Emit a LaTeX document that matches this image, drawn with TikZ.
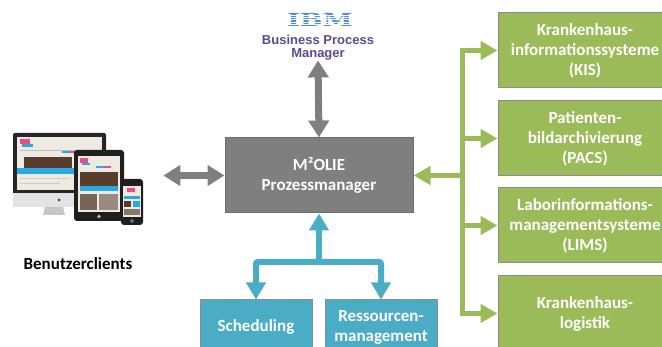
\documentclass[tikz,border=0pt]{standalone}
\usepackage{fontspec}
\setmainfont{Carlito}
\newfontfamily\bpmfont{Liberation Sans}
\newfontfamily\ibmserif{DejaVu Serif}
\usetikzlibrary{arrows.meta,calc}

\definecolor{mgrey}{RGB}{127,127,127}
\definecolor{mgreen}{RGB}{155,187,89}
\definecolor{mblue}{RGB}{75,172,198}
\definecolor{ibmblue}{RGB}{72,142,218}
\definecolor{ibmpurple}{RGB}{90,74,150}
\definecolor{screenbg}{RGB}{238,234,226}
\definecolor{webcyan}{RGB}{39,170,225}
\definecolor{webpink}{RGB}{233,78,138}
\definecolor{webdark}{RGB}{88,60,44}

\tikzset{every picture/.style={line width=0.75pt}}
\tikzset{
  procbox/.style={draw=black!45, line width=1pt, text=white, align=center,
    inner sep=0pt, font=\bfseries\fontsize{17}{20}\selectfont},
  greybox/.style={procbox, fill=mgrey, draw=black!58, minimum width=188, minimum height=75},
  greenbox/.style={procbox, fill=mgreen, minimum width=174, minimum height=75},
  bluebox/.style={procbox, fill=mblue, minimum width=112, minimum height=54},
  greyarrow/.style={draw=mgrey, line width=7pt, {Triangle[width=20pt,length=17pt]}-{Triangle[width=20pt,length=17pt]}},
  greenline/.style={draw=mgreen, line width=5pt, line cap=rect},
  greenarrow/.style={draw=mgreen, line width=5pt, -{Triangle[width=18pt,length=17pt]}},
  bluearrow/.style={draw=mblue, line width=6pt, -{Triangle[width=19pt,length=17pt]}},
  ibmlogo/.style={inner sep=0pt, text=ibmblue, font=\ibmserif\bfseries\fontsize{18}{18}\selectfont},
  ibmstripe/.style={draw=white, line width=0.5pt},
  bpmtext/.style={inner sep=0pt, text=ibmpurple, align=center, font=\bpmfont\bfseries\fontsize{13}{12.5}\selectfont},
  labeltext/.style={inner sep=0pt, font=\bfseries\fontsize{17}{20}\selectfont}
}

\begin{document}
\begin{tikzpicture}[x=1pt,y=1pt,yscale=-1,xscale=1]
\useasboundingbox (0,0) rectangle (662,347);
\clip (0,0) rectangle (662,347);

% Text Node
\node (ibm) at (320,19.5) [ibmlogo] {\scalebox{1.5}[1]{\textbf{IBM}}};
\foreach \k in {1,...,5}
  \draw [ibmstripe] ($(ibm.south west)!\k/6!(ibm.north west)$) -- ($(ibm.south east)!\k/6!(ibm.north east)$);
% Text Node
\node (bpm) at (318,35) [anchor=north, bpmtext] {Business Process\\Manager};

% Text Node
\node (manager) at (319,175.5) [greybox] {M²OLIE\\Prozessmanager};

% Text Node
\node (kis) at (585,50.5) [greenbox] {Krankenhaus-\\informationssysteme\\(KIS)};
% Text Node
\node (pacs) at (585,138.5) [greenbox] {Patienten-\\bildarchivierung\\(PACS)};
% Text Node
\node (lims) at (585,225.5) [greenbox] {Laborinformations-\\managementsysteme\\(LIMS)};
% Text Node
\node (logistik) at (585,313.5) [greenbox] {Krankenhaus-\\logistik};

% Text Node
\node (sched) at (256,327) [bluebox] {Scheduling};
% Text Node
\node (ressourcen) at (381,327) [bluebox] {Ressourcen-\\management};

% Clients: desktop, tablet and phone
\node (clients) at (79,175.5) [minimum width=132, minimum height=93, inner sep=0pt] {};
% desktop
\fill [black!85, rounded corners=2pt] (13,133) rectangle (106,195);
\fill [gray!22] (13,193) rectangle (106,207);
\fill [black!70] (59,200) circle (1.6);
\fill [gray!45] (45,207) -- (63,207) -- (65,215) -- (43,215) -- cycle;
\fill [screenbg] (17,137) rectangle (102,190);
\fill [webpink] (20,139) rectangle (30,144);
\fill [webcyan] (22,144) rectangle (33,147);
\fill [black!25] (20,150) rectangle (100,151.5);
\fill [webcyan] (62,151.5) rectangle (70,153);
\fill [webpink] (70,151.5) rectangle (78,153);
\fill [orange] (78,151.5) rectangle (86,153);
\fill [webdark] (24,157) rectangle (72,168);
\fill [webcyan] (17,168) rectangle (74,174);
\fill [webdark!70] (74,156) rectangle (100,170);
\fill [black!20] (20,178) rectangle (70,179.5);
\fill [black!20] (20,183) rectangle (60,184.5);
% tablet
\fill [black!88, rounded corners=3pt] (74,150) rectangle (124,221);
\fill [screenbg] (78,156) rectangle (120,212);
\fill [webpink] (80,158) rectangle (88,163);
\fill [webcyan] (82,163) rectangle (90,165);
\fill [webcyan] (96,166) rectangle (104,168);
\fill [webpink] (104,166) rectangle (111,168);
\fill [webdark] (80,172) rectangle (118,186);
\fill [webcyan] (80,186) rectangle (118,191);
\fill [webdark!80] (80,194) rectangle (97,210);
\fill [webdark!60] (99,194) rectangle (118,210);
\fill [gray!55] (99,216.5) circle (1.8);
% phone
\fill [black!88, rounded corners=3pt] (121,179) rectangle (143,225);
\fill [screenbg] (123,186) rectangle (141,217);
\fill [webpink] (127,188) rectangle (135,192);
\fill [webcyan] (124,196) rectangle (140,199);
\fill [webdark] (124,201) rectangle (131,207);
\fill [webcyan] (133,201) rectangle (140,207);
\fill [webdark!70] (124,209) rectangle (140,215);
\draw [gray!60, line width=0.6pt] (132,221) circle (1.5);

% Text Node
\node (clientlabel) at (78,264) [labeltext] {Benutzerclients};

% Connection
\draw [greyarrow, shorten <=18pt] (clients.east) -- (manager.west);
% Connection
\draw [greyarrow] (manager.north) -- (bpm.south);

% Connection
\coordinate (trunk) at (462,175.5);
\draw [greenline] (trunk |- kis.west) -- (trunk |- logistik.west);
\foreach \sys in {kis,pacs,lims,logistik}
  \draw [greenarrow] (trunk |- \sys.west) -- (\sys.west);
\draw [greenarrow] (trunk) -- (manager.east);

% Connection
\coordinate (split) at (319,262);
\draw [bluearrow] (split) -- (manager.south);
\draw [bluearrow, rounded corners=2pt] (split) -| (sched.north);
\draw [bluearrow, rounded corners=2pt] (split) -| (ressourcen.north);

\end{tikzpicture}
\end{document}
